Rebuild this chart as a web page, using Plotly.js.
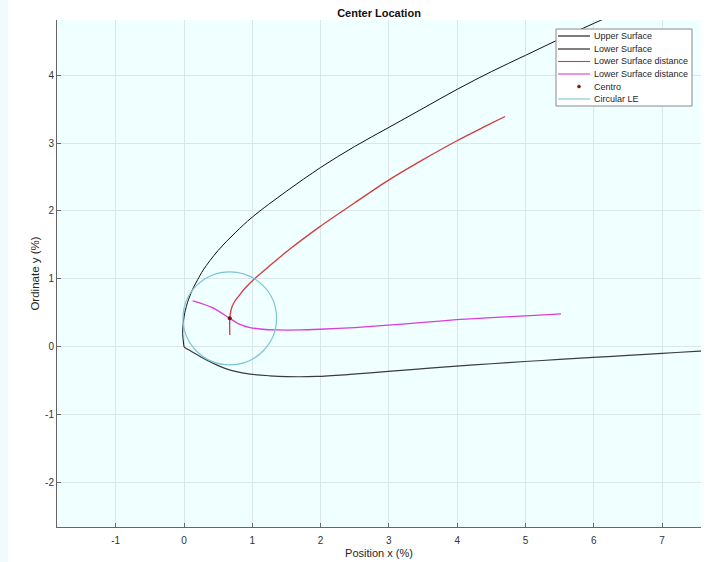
<!DOCTYPE html>
<html>
<head>
<meta charset="utf-8">
<script src="https://cdn.plot.ly/plotly-3.0.1.min.js"></script>
<style>
  html, body { margin: 0; padding: 0; background: #ffffff; }
  #chart { width: 708px; height: 562px; }
</style>
</head>
<body>
<div id="chart"></div>
<script>
// Airfoil leading-edge geometry (values in % of chord)
const upperX = [0, -0.02, -0.01, 0.005, 0.02, 0.05, 0.08, 0.136, 0.2, 0.28, 0.5, 0.75, 1.0, 1.5, 2.0, 2.5, 3.0, 3.5, 4.0, 4.5, 5.0, 5.5, 6.0, 6.5];
const upperY = [0, 0.2, 0.36, 0.47, 0.54, 0.65, 0.735, 0.87, 0.99, 1.13, 1.42, 1.68, 1.91, 2.29, 2.64, 2.95, 3.23, 3.51, 3.79, 4.05, 4.29, 4.53, 4.76, 4.98];

const lowerX = [0, 0.08, 0.234, 0.35, 0.476, 0.6, 0.75, 0.966, 1.25, 1.5, 1.94, 2.43, 2.99, 3.5, 3.99, 4.5, 4.99, 5.5, 5.99, 6.5, 7.0, 7.55, 7.8];
const lowerY = [0, -0.05, -0.14, -0.205, -0.265, -0.315, -0.36, -0.40, -0.425, -0.437, -0.435, -0.405, -0.36, -0.32, -0.283, -0.248, -0.215, -0.185, -0.155, -0.125, -0.095, -0.063, -0.049];

// Offset curves (distance from the lower surface)
const redX = [0.67, 0.67, 0.69, 0.73, 0.795, 0.9, 1.04, 1.25, 1.55, 1.99, 2.5, 2.99, 3.5, 3.99, 4.4, 4.70];
const redY = [0.176, 0.42, 0.55, 0.65, 0.74, 0.87, 1.01, 1.19, 1.44, 1.77, 2.12, 2.45, 2.755, 3.03, 3.24, 3.39];

const magX = [0.127, 0.25, 0.43, 0.67, 0.8, 0.966, 1.15, 1.357, 1.7, 1.99, 2.5, 2.99, 3.5, 3.99, 4.5, 5.07, 5.52];
const magY = [0.676, 0.64, 0.57, 0.42, 0.34, 0.285, 0.26, 0.25, 0.25, 0.26, 0.285, 0.32, 0.36, 0.40, 0.43, 0.46, 0.485];

// Centre of the leading-edge circle and its radius
const centroX = [0.67];
const centroY = [0.42];
const circleR = 0.685;

// Axis ticks
const xTickVals = [-1, 0, 1, 2, 3, 4, 5, 6, 7];
const xTickText = ['-1', '0', '1', '2', '3', '4', '5', '6', '7'];
const yTickVals = [-2, -1, 0, 1, 2, 3, 4];
const yTickText = ['-2', '-1', '0', '1', '2', '3', '4'];

// Legend entries
const legendNames = ['Upper Surface', 'Lower Surface', 'Lower Surface distance', 'Lower Surface distance', 'Centro', 'Circular LE'];
const legendColors = ['#111111', '#3c3c3c', '#d23c3c', '#dc3cdc', '#7a0a0a', '#7cc4d6'];
const legendKinds = ['line', 'line', 'line', 'line', 'dot', 'line'];

const FONT = 'Liberation Sans, Arial, Helvetica, sans-serif';
const W = 708, H = 562;
const M = { l: 57, r: 7, t: 20, b: 35 };
const PW = W - M.l - M.r, PH = H - M.t - M.b;
const px2x = p => (p - M.l) / PW;
const px2y = p => (H - M.b - p) / PH;

const traces = [
  { x: upperX, y: upperY, mode: 'lines', name: legendNames[0], line: { color: legendColors[0], width: 1, shape: 'spline', smoothing: 1 } },
  { x: lowerX, y: lowerY, mode: 'lines', name: legendNames[1], line: { color: legendColors[1], width: 1.2, shape: 'spline', smoothing: 1 } },
  { x: redX, y: redY, mode: 'lines', name: legendNames[2], line: { color: legendColors[2], width: 1.3, shape: 'spline', smoothing: 0.8 } },
  { x: magX, y: magY, mode: 'lines', name: legendNames[3], line: { color: legendColors[3], width: 1.3, shape: 'spline', smoothing: 0.8 } },
  { x: centroX, y: centroY, mode: 'markers', name: legendNames[4], marker: { color: legendColors[4], size: 4 } }
];

const shapes = [];
const annotations = [];

// Circular leading edge drawn in data coordinates
shapes.push({
  type: 'circle', xref: 'x', yref: 'y', layer: 'above',
  x0: centroX[0] - circleR, x1: centroX[0] + circleR,
  y0: centroY[0] - circleR, y1: centroY[0] + circleR,
  line: { color: legendColors[5], width: 1.2 }
});

// Faint strip along the left edge of the figure
shapes.push({
  type: 'rect', xref: 'paper', yref: 'paper', layer: 'below',
  x0: px2x(0), x1: px2x(8), y0: px2y(H), y1: px2y(0),
  fillcolor: '#f1fbfd', line: { width: 0 }
});

// Legend box
shapes.push({
  type: 'rect', xref: 'paper', yref: 'paper', layer: 'above',
  x0: px2x(556), x1: px2x(692), y0: px2y(106), y1: px2y(29),
  fillcolor: '#ffffff', line: { color: '#8a8a8a', width: 1 }
});
const rowY = [36, 49, 61.5, 74, 86.5, 99];
legendNames.forEach((name, i) => {
  if (legendKinds[i] === 'line') {
    shapes.push({
      type: 'line', xref: 'paper', yref: 'paper', layer: 'above',
      x0: px2x(558), x1: px2x(590), y0: px2y(rowY[i]), y1: px2y(rowY[i]),
      line: { color: legendColors[i], width: i === 1 ? 1.3 : 1.1 }
    });
  } else {
    shapes.push({
      type: 'circle', xref: 'paper', yref: 'paper', layer: 'above',
      x0: px2x(577.5), x1: px2x(580.5), y0: px2y(rowY[i] + 1.5), y1: px2y(rowY[i] - 1.5),
      fillcolor: legendColors[i], line: { color: legendColors[i], width: 0.5 }
    });
  }
  annotations.push({
    xref: 'paper', yref: 'paper', x: px2x(592), y: px2y(rowY[i]),
    xanchor: 'left', yanchor: 'middle', showarrow: false,
    text: name, font: { family: FONT, size: 9, color: '#262626' }
  });
});

const axisCommon = {
  showgrid: true, gridcolor: '#dbe6e8', gridwidth: 1,
  zeroline: false, showline: true, linecolor: '#666666', linewidth: 1,
  ticks: 'inside', ticklen: 4, tickcolor: '#666666', mirror: false,
  tickfont: { family: FONT, size: 10, color: '#333333' }, fixedrange: true
};

const layout = {
  width: W, height: H,
  margin: M,
  paper_bgcolor: '#ffffff',
  plot_bgcolor: '#f0ffff',
  showlegend: false,
  title: {
    text: 'Center Location', x: 0.5, xref: 'paper', xanchor: 'center',
    y: 1 - 13 / H, yref: 'container', yanchor: 'middle',
    font: { family: FONT, size: 11, color: '#111111', weight: 'bold' }
  },
  xaxis: Object.assign({}, axisCommon, {
    range: [-1.86, 7.57], tickmode: 'array', tickvals: xTickVals, ticktext: xTickText,
    ticklabelstandoff: 4,
    title: { text: 'Position x (%)', standoff: 4, font: { family: FONT, size: 11, color: '#262626' } }
  }),
  yaxis: Object.assign({}, axisCommon, {
    range: [-2.65, 4.81], tickmode: 'array', tickvals: yTickVals, ticktext: yTickText,
    title: { text: 'Ordinate y (%)', standoff: 3, font: { family: FONT, size: 11.5, color: '#262626' } }
  }),
  shapes: shapes,
  annotations: annotations
};

Plotly.newPlot('chart', traces, layout, { displayModeBar: false, staticPlot: true });
</script>
</body>
</html>
